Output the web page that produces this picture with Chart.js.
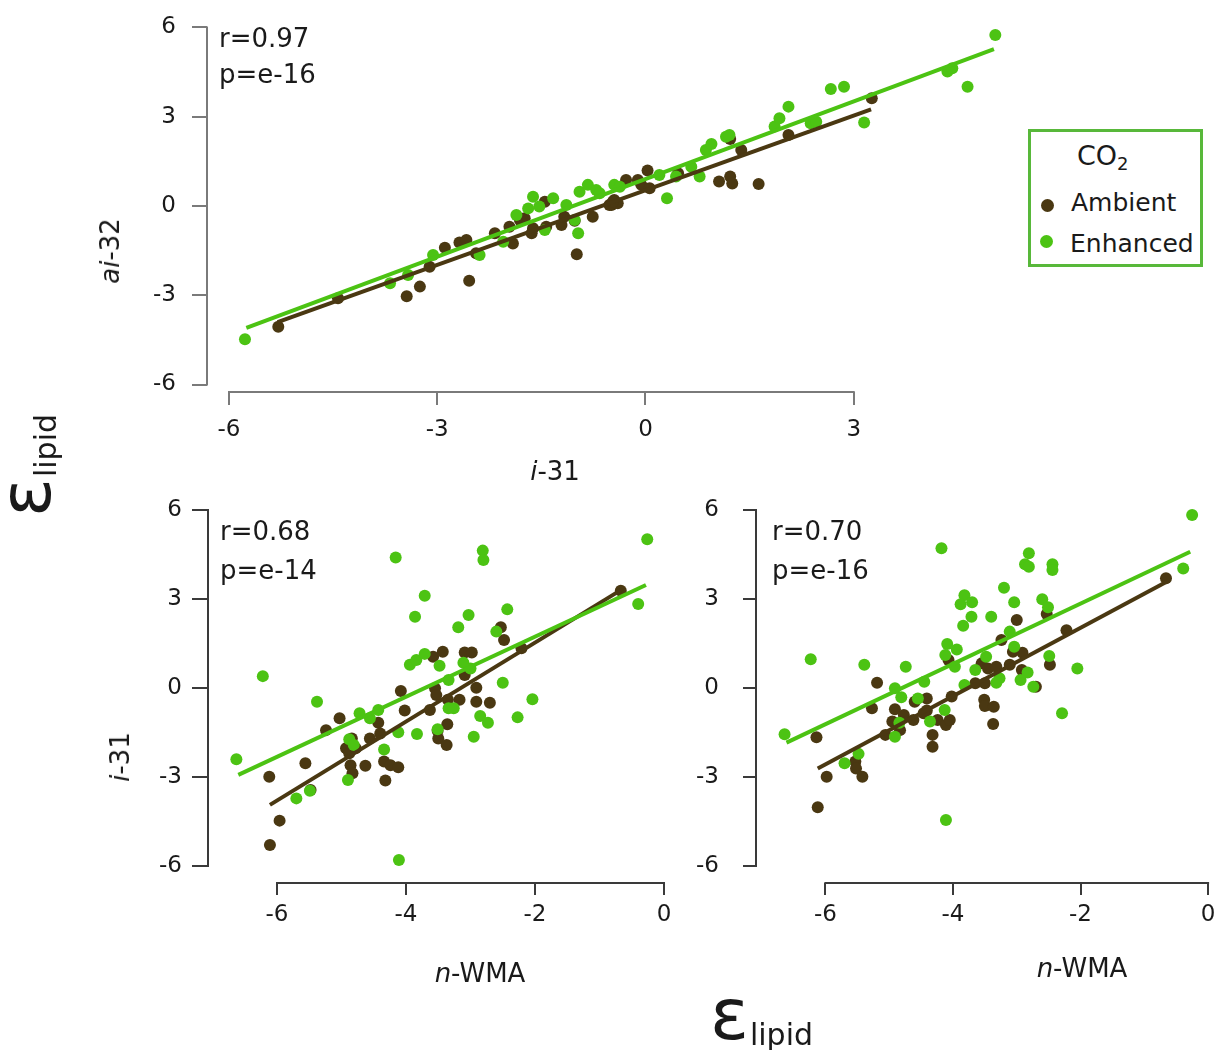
<!DOCTYPE html>
<html>
<head>
<meta charset="utf-8">
<script src="https://cdn.jsdelivr.net/npm/chart.js@4.4.1/dist/chart.umd.min.js"></script>
<style>
  body { margin: 0; background: #fff; width: 1222px; height: 1050px; position: relative; overflow: hidden;
         font-family: "DejaVu Sans", sans-serif; color: #1a1a1a; }
  canvas { position: absolute; }
  .t { position: absolute; white-space: nowrap; line-height: 1; }
  .stat { font-size: 26px; }
  .axt { font-size: 26px; }
  .rot { transform: translate(-50%, -50%) rotate(-90deg); }
  .big { font-size: 72px; }
  .big span { font-size: 30px; position: relative; top: 6px; margin-left: 1px; }
  #legend { position: absolute; left: 1028px; top: 129px; width: 175px; height: 138px;
            border: 3px solid #58b83a; box-sizing: border-box; }
  .dot { position: absolute; width: 13px; height: 13px; border-radius: 50%; }
</style>
</head>
<body>
<canvas id="top" width="1015" height="450" style="left:0;top:0"></canvas>
<canvas id="left" width="700" height="510" style="left:0;top:470px"></canvas>
<canvas id="right" width="532" height="510" style="left:690px;top:470px"></canvas>

<div class="t stat" style="left:219px;top:25px">r=0.97</div>
<div class="t stat" style="left:219px;top:61px">p=e-16</div>
<div class="t stat" style="left:220px;top:518px">r=0.68</div>
<div class="t stat" style="left:220px;top:557px">p=e-14</div>
<div class="t stat" style="left:772px;top:518px">r=0.70</div>
<div class="t stat" style="left:772px;top:557px">p=e-16</div>

<div class="t axt" style="left:455px;width:200px;text-align:center;top:458px"><i>i</i>-31</div>
<div class="t axt rot" style="left:110px;top:251px"><i>ai</i>-32</div>
<div class="t axt rot" style="left:120px;top:757px"><i>i</i>-31</div>
<div class="t axt" style="left:380px;width:200px;text-align:center;top:960px"><i>n</i>-WMA</div>
<div class="t axt" style="left:982px;width:200px;text-align:center;top:955px"><i>n</i>-WMA</div>

<div class="t big" style="left:710px;top:978px">ε<span>lipid</span></div>
<div class="t big" style="left:-11px;top:517px;transform-origin:0 0;transform:rotate(-90deg)">ε<span>lipid</span></div>

<div id="legend"></div>
<div class="t" style="left:1077px;top:142px;font-size:27px">CO<sub style="font-size:18px;vertical-align:-5px">2</sub></div>
<div class="dot" style="left:1041px;top:199px;background:#4a3812"></div>
<div class="t" style="left:1071px;top:190px;font-size:25px">Ambient</div>
<div class="dot" style="left:1040px;top:235px;background:#4cc313"></div>
<div class="t" style="left:1070px;top:231px;font-size:25px">Enhanced</div>

<script>
const ambientColor = "#4a3812";
const enhancedColor = "#4cc313";

const yTicks = [-6, -3, 0, 3, 6];
const i31Ticks = [-6, -3, 0, 3];
const wmaTicks = [-6, -4, -2, 0];

// ai-32 against i-31
const aiAmbX = [-5.29, -4.43, -3.44, -3.25, -3.11, -2.89, -2.68, -2.58, -2.54, -2.44, -2.17, -1.91, -1.96, -1.81, -1.74,
  -1.64, -1.62, -1.45, -1.43, -1.21, -1.17, -1.02, -0.99, -0.76, -0.49, -0.45, -0.52, -0.40, -0.47, -0.28, -0.11, -0.06,
  0.03, 0.06, 0.47, 1.06, 1.22, 1.25, 1.22, 1.38, 1.63, 2.06, 3.26];
const aiAmbY = [-4.06, -3.10, -3.03, -2.71, -2.04, -1.40, -1.23, -1.14, -2.51, -1.59, -0.92, -1.26, -0.70, -0.47, -0.41,
  -0.92, -0.75, 0.14, -0.70, -0.64, -0.36, -0.50, -1.62, -0.36, 0.03, 0.20, 0.03, 0.09, 0.14, 0.87, 0.87, 0.71,
  1.19, 0.60, 1.10, 0.82, 0.99, 0.76, 2.25, 1.88, 0.74, 2.39, 3.62];
const aiEnhX = [-5.77, -3.68, -3.42, -3.06, -2.39, -2.05, -1.86, -1.69, -1.62, -1.53, -1.33, -1.45, -1.14, -1.02, -0.97,
  -0.95, -0.83, -0.71, -0.45, -0.37, -0.66, 0.20, 0.31, 0.44, 0.66, 0.78, 0.87, 0.95, 1.16, 1.21, 1.86, 1.93, 2.06,
  2.38, 2.46, 2.67, 2.86, 3.15, 4.35, 4.42, 4.64, 5.04];
const aiEnhY = [-4.48, -2.60, -2.32, -1.65, -1.65, -1.20, -0.30, -0.08, 0.31, -0.02, 0.26, -0.81, 0.03, -0.47, -0.92,
  0.48, 0.71, 0.54, 0.71, 0.65, 0.43, 1.04, 0.26, 0.99, 1.32, 0.99, 1.88, 2.08, 2.33, 2.39, 2.67, 2.95, 3.34,
  2.78, 2.83, 3.93, 4.01, 2.81, 4.52, 4.63, 4.01, 5.75];
const aiAmbFitX = [-5.30, 3.25];
const aiAmbFitY = [-3.90, 3.25];
const aiEnhFitX = [-5.75, 5.02];
const aiEnhFitY = [-4.10, 5.27];

// i-31 against n-WMA
const i31AmbX = [-0.67, -2.53, -2.48, -3.58, -3.43, -3.09, -2.98, -2.21, -4.08, -3.55, -3.53, -3.35, -3.17, -3.09, -2.91,
  -2.91, -2.70, -3.63, -4.02, -3.36, -3.51, -3.50, -3.37, -5.03, -5.24, -4.43, -4.40, -4.56, -4.84, -4.93, -4.78,
  -4.88, -4.86, -4.83, -4.63, -4.34, -4.24, -4.12, -4.32, -5.56, -5.48, -6.12, -5.96, -6.11];
const i31AmbY = [3.28, 2.05, 1.62, 1.05, 1.22, 1.20, 1.20, 1.34, -0.10, -0.01, -0.24, -0.40, -0.40, 0.44, 0.01,
  -0.46, -0.50, -0.74, -0.76, -1.22, -1.44, -1.70, -1.92, -1.02, -1.42, -1.17, -1.53, -1.70, -1.70, -2.03, -2.03,
  -2.20, -2.60, -2.87, -2.62, -2.48, -2.60, -2.67, -3.12, -2.54, -3.44, -2.99, -4.47, -5.29];
const i31EnhX = [-0.26, -0.40, -2.81, -2.80, -4.16, -3.71, -3.86, -2.43, -3.03, -3.19, -2.60, -6.22, -6.63, -5.38, -4.72,
  -4.56, -4.43, -3.94, -3.84, -3.71, -3.48, -3.34, -3.11, -3.00, -2.50, -2.04, -2.85, -2.73, -2.27, -2.95, -3.34,
  -3.26, -3.83, -4.12, -3.51, -4.88, -4.81, -4.34, -4.90, -5.49, -5.70, -4.11];
const i31EnhY = [5.01, 2.83, 4.63, 4.31, 4.40, 3.11, 2.40, 2.65, 2.46, 2.05, 1.90, 0.40, -2.40, -0.46, -0.85,
  -1.02, -0.74, 0.78, 0.94, 1.15, 0.75, 0.27, 0.85, 0.66, 0.18, -0.38, -0.94, -1.17, -0.99, -1.64, -0.68,
  -0.68, -1.55, -1.49, -1.39, -1.73, -1.92, -2.07, -3.10, -3.46, -3.72, -5.80];
const i31AmbFitX = [-6.11, -0.67];
const i31AmbFitY = [-3.94, 3.30];
const i31EnhFitX = [-6.60, -0.28];
const i31EnhFitY = [-2.93, 3.47];

// ai-32 against n-WMA
const ai32AmbX = [-0.66, -2.53, -3.00, -2.22, -3.24, -3.06, -2.91, -4.07, -3.55, -3.45, -3.32, -3.11, -2.92, -2.48, -2.70,
  -3.65, -3.50, -5.19, -5.27, -4.91, -4.77, -4.62, -4.95, -4.83, -5.06, -4.60, -4.41, -4.41, -4.46, -4.24, -4.11,
  -4.05, -4.02, -4.32, -4.32, -3.51, -3.50, -3.36, -3.37, -6.14, -5.53, -5.52, -5.98, -5.42, -6.12];
const ai32AmbY = [3.70, 2.49, 2.29, 1.95, 1.62, 1.22, 1.19, 0.94, 0.83, 0.66, 0.72, 0.78, 0.61, 0.78, 0.04,
  0.16, 0.16, 0.18, -0.68, -0.72, -0.91, -1.08, -1.13, -1.42, -1.58, -0.46, -0.35, -0.76, -0.85, -1.08, -1.25,
  -1.08, -0.29, -1.58, -1.98, -0.40, -0.61, -0.63, -1.21, -1.66, -2.48, -2.71, -2.99, -2.99, -4.02];
const ai32EnhX = [-0.25, -0.39, -6.64, -6.23, -5.39, -4.74, -4.18, -2.81, -2.87, -2.81, -2.44, -2.44, -3.20, -3.04, -2.60,
  -2.51, -3.82, -3.88, -3.70, -3.71, -3.84, -3.40, -3.11, -4.09, -3.94, -4.12, -3.97, -3.04, -3.48, -3.65, -3.27,
  -3.32, -2.83, -2.94, -2.74, -2.49, -2.05, -2.29, -3.82, -4.45, -4.55, -4.91, -4.81, -4.13, -4.36, -4.91, -5.48,
  -5.70, -4.11, -4.84];
const ai32EnhY = [5.83, 4.03, -1.56, 0.97, 0.78, 0.72, 4.71, 4.54, 4.17, 4.09, 4.17, 3.98, 3.38, 2.89, 2.99,
  2.72, 3.13, 2.82, 2.89, 2.40, 2.10, 2.40, 1.90, 1.48, 1.30, 1.11, 0.72, 1.39, 1.05, 0.61, 0.33,
  0.18, 0.52, 0.27, 0.04, 1.08, 0.66, -0.85, 0.10, 0.21, -0.35, -0.01, -0.31, -0.74, -1.13, -1.64, -2.22,
  -2.54, -4.45, -1.17];
const ai32AmbFitX = [-6.12, -0.65];
const ai32AmbFitY = [-2.71, 3.58];
const ai32EnhFitX = [-6.61, -0.28];
const ai32EnhFitY = [-1.84, 4.59];

function pairs(xs, ys) {
  return xs.map((x, i) => ({ x: x, y: ys[i] }));
}

// R-style axes: the line only runs from the first tick to the last one
const detachedAxes = {
  id: "detachedAxes",
  afterDraw(chart, args, opts) {
    const { ctx, chartArea } = chart;
    const x = chart.scales.x, y = chart.scales.y;
    const xt = x.ticks, yt = y.ticks;
    ctx.save();
    ctx.strokeStyle = opts.color;
    ctx.lineWidth = 2;
    ctx.beginPath();
    ctx.moveTo(x.getPixelForValue(xt[0].value) - 1, chartArea.bottom);
    ctx.lineTo(x.getPixelForValue(xt[xt.length - 1].value) + 1, chartArea.bottom);
    ctx.moveTo(chartArea.left, y.getPixelForValue(yt[0].value) + 1);
    ctx.lineTo(chartArea.left, y.getPixelForValue(yt[yt.length - 1].value) - 1);
    ctx.stroke();
    ctx.restore();
  }
};

function panel(id, o) {
  const dot = { pointRadius: 6, pointBorderWidth: 0, pointHoverRadius: 6 };
  const fit = { type: "line", pointRadius: 0, borderWidth: 4, fill: false };
  return new Chart(document.getElementById(id), {
    type: "scatter",
    data: {
      datasets: [
        { ...dot, data: pairs(o.ambX, o.ambY), backgroundColor: ambientColor, order: 3 },
        { ...dot, data: pairs(o.enhX, o.enhY), backgroundColor: enhancedColor, order: 2 },
        { ...fit, data: pairs(o.ambFitX, o.ambFitY), borderColor: ambientColor, order: 1 },
        { ...fit, data: pairs(o.enhFitX, o.enhFitY), borderColor: enhancedColor, order: 0 }
      ]
    },
    options: {
      responsive: false,
      animation: false,
      events: [],
      layout: { padding: o.pad },
      plugins: {
        legend: { display: false },
        tooltip: { enabled: false },
        detachedAxes: { color: o.axisColor }
      },
      scales: {
        x: {
          type: "linear", min: o.xMin, max: o.xMax,
          afterBuildTicks: s => { s.ticks = o.xTicks.map(v => ({ value: v })); },
          afterFit: s => { s.height = 50; s.paddingLeft = 0; s.paddingRight = 0; },
          grid: { drawOnChartArea: false, tickLength: o.xTickLen, color: o.axisColor, lineWidth: 2 },
          border: { display: false },
          ticks: { padding: o.xPad, color: "#1a1a1a", font: { size: 23 }, maxRotation: 0, autoSkip: false,
                   callback: v => String(v) }
        },
        y: {
          type: "linear", min: o.yMin, max: o.yMax,
          afterBuildTicks: s => { s.ticks = yTicks.map(v => ({ value: v })); },
          afterFit: s => { s.width = o.yWidth; s.paddingTop = 0; s.paddingBottom = 0; },
          grid: { drawOnChartArea: false, tickLength: o.yTickLen, color: o.axisColor, lineWidth: 2 },
          border: { display: false },
          ticks: { padding: o.yPad, color: "#1a1a1a", font: { size: 23 }, autoSkip: false,
                   callback: v => String(v) }
        }
      }
    },
    plugins: [detachedAxes]
  });
}

Chart.defaults.font.family = "'DejaVu Sans', sans-serif";

panel("top", {
  ambX: aiAmbX, ambY: aiAmbY, enhX: aiEnhX, enhY: aiEnhY,
  ambFitX: aiAmbFitX, ambFitY: aiAmbFitY, enhFitX: aiEnhFitX, enhFitY: aiEnhFitY,
  xTicks: i31Ticks, xMin: -6.317, xMax: 5.237, yMin: -6.252, yMax: 6.319,
  pad: { left: 127, top: 18, right: 5, bottom: 8 }, yWidth: 80,
  axisColor: "#7a7a7a", xTickLen: 13, xPad: 11, yTickLen: 15, yPad: 16
});

panel("left", {
  ambX: i31AmbX, ambY: i31AmbY, enhX: i31EnhX, enhY: i31EnhY,
  ambFitX: i31AmbFitX, ambFitY: i31AmbFitY, enhFitX: i31EnhFitX, enhFitY: i31EnhFitY,
  xTicks: wmaTicks, xMin: -7.07, xMax: 0.403, yMin: -6.572, yMax: 6.336,
  pad: { left: 128, top: 30, right: 10, bottom: 47 }, yWidth: 80,
  axisColor: "#3a3a3a", xTickLen: 12, xPad: 6, yTickLen: 16, yPad: 10
});

panel("right", {
  ambX: ai32AmbX, ambY: ai32AmbY, enhX: ai32EnhX, enhY: ai32EnhY,
  ambFitX: ai32AmbFitX, ambFitY: ai32AmbFitY, enhFitX: ai32EnhFitX, enhFitY: ai32EnhFitY,
  xTicks: wmaTicks, xMin: -7.088, xMax: 0.124, yMin: -6.572, yMax: 6.336,
  pad: { left: 6, top: 30, right: 2, bottom: 47 }, yWidth: 60,
  axisColor: "#3a3a3a", xTickLen: 12, xPad: 6, yTickLen: 13, yPad: 24
});
</script>
</body>
</html>
